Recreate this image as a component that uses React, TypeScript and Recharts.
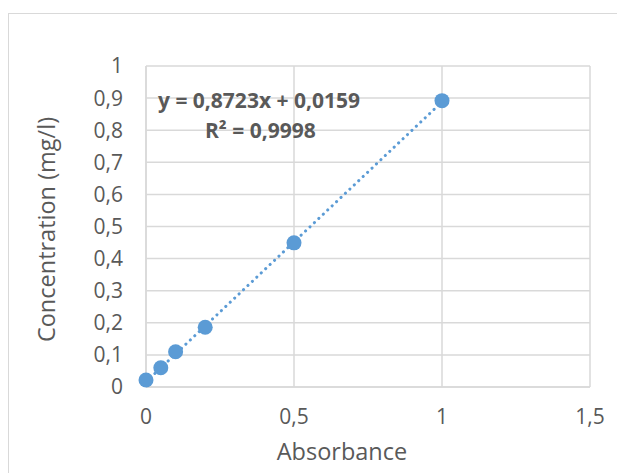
import {
	CartesianGrid,
	Label,
	Scatter,
	ScatterChart,
	XAxis,
	YAxis,
} from 'recharts';

const absorbance = [0, 0.05, 0.1, 0.2, 0.5, 1];
const concentration = [0.022, 0.06, 0.11, 0.186, 0.449, 0.892];

// trendline end points (y = 0,8723x + 0,0159)
const trendX = [0, 1];
const trendY = [0.0159, 0.8882];

const xTicks = [0, 0.5, 1, 1.5];
const yTicks = [0, 0.1, 0.2, 0.3, 0.4, 0.5, 0.6, 0.7, 0.8, 0.9, 1];

const equationText = 'y = 0,8723x + 0,0159';
const r2Text = 'R² = 0,9998';

const points = absorbance.map((x, i) => ({x, y: concentration[i]}));
const trend = trendX.map((x, i) => ({x, y: trendY[i]}));

const fmt = (v: number) => String(v).replace('.', ',');

const FONT = '"Open Sans", sans-serif';
const GREY = '#595959';
const BLUE = '#5B9BD5';

export default function App() {
	return (
		<div
			style={{
				position: 'absolute',
				left: 0,
				top: 0,
				width: 617,
				height: 473,
				background: '#fff',
				overflow: 'hidden',
				fontFamily: FONT,
			}}
		>
			<div
				style={{
					position: 'absolute',
					left: 8,
					top: 13,
					width: 700,
					height: 600,
					border: '1px solid #D9D9D9',
				}}
			/>
			<ScatterChart
				width={617}
				height={473}
				margin={{top: 66, right: 27, left: 0, bottom: 0}}
				style={{position: 'absolute', left: 0, top: 0}}
			>
				<CartesianGrid stroke="#D9D9D9" strokeWidth={1.5} />
				<XAxis
					type="number"
					dataKey="x"
					domain={[0, 1.5]}
					ticks={xTicks}
					tickFormatter={fmt}
					height={86}
					tickLine={false}
					tickSize={0}
					tickMargin={22}
					axisLine={{stroke: '#D9D9D9', strokeWidth: 1.5}}
					tick={{fill: GREY, fontSize: 21, fontFamily: FONT}}
				>
					<Label
						value="Absorbance"
						position="insideBottom"
						offset={13}
						dx={-26}
						fill={GREY}
						fontSize={23.5}
						fontFamily={FONT}
					/>
				</XAxis>
				<YAxis
					type="number"
					dataKey="y"
					domain={[0, 1]}
					ticks={yTicks}
					tickFormatter={fmt}
					width={146}
					tickLine={false}
					tickSize={0}
					tickMargin={23}
					axisLine={{stroke: '#D9D9D9', strokeWidth: 1.5}}
					tick={{fill: GREY, fontSize: 21, fontFamily: FONT}}
				>
					<Label
						value="Concentration (mg/l)"
						angle={-90}
						position="insideLeft"
						offset={47}
						dy={3}
						fill={GREY}
						fontSize={23.5}
						fontFamily={FONT}
						style={{textAnchor: 'middle'}}
					/>
				</YAxis>
				<Scatter
					data={trend}
					line={{
						stroke: BLUE,
						strokeWidth: 3,
						strokeDasharray: '0.1 6',
						strokeLinecap: 'round',
					}}
					shape={() => null}
					isAnimationActive={false}
				/>
				<Scatter
					data={points}
					fill={BLUE}
					shape={(p: any) => <circle cx={p.cx} cy={p.cy} r={7.5} fill={BLUE} />}
					isAnimationActive={false}
				/>
			</ScatterChart>
			<div
				style={{
					position: 'absolute',
					left: 158,
					top: 85,
					fontSize: 21,
					fontWeight: 700,
					color: GREY,
					whiteSpace: 'nowrap',
					lineHeight: '30px',
				}}
			>
				{equationText}
			</div>
			<div
				style={{
					position: 'absolute',
					left: 205,
					top: 115,
					fontSize: 21,
					fontWeight: 700,
					color: GREY,
					whiteSpace: 'nowrap',
					lineHeight: '30px',
				}}
			>
				{r2Text}
			</div>
		</div>
	);
}
